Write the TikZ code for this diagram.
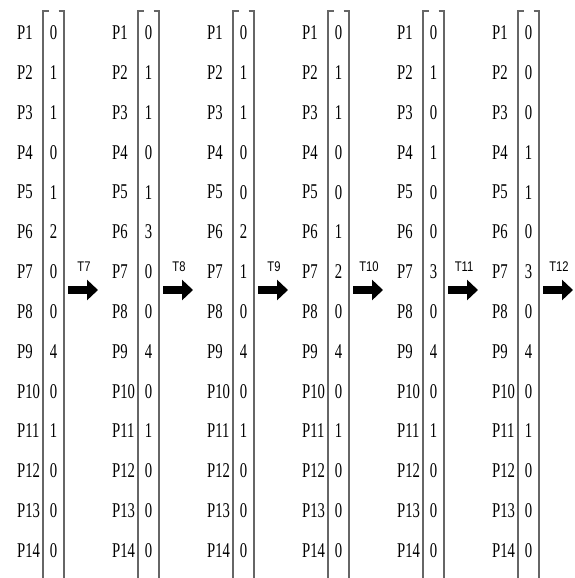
\documentclass[tikz,border=0pt]{standalone}
\usepackage{fontspec}
\newfontfamily\placefont[FakeStretch=0.7]{Liberation Serif}
\newfontfamily\transfont[FakeStretch=0.8]{Liberation Sans}
\usetikzlibrary{arrows.meta}
\tikzset{
    placeLabel/.style={
        anchor=west,
        inner sep=0pt,
        font=\placefont\fontsize{21}{21}\selectfont
    },
    tokenCount/.style={
        inner sep=0pt,
        font=\placefont\fontsize{21}{21}\selectfont
    },
    vecBracket/.style={
        draw=black!60,
        line width=1.6pt
    },
    fireArrow/.style={
        line width=8pt,
        -{Triangle[length=11pt, width=20pt]}
    },
    transLabel/.style={
        inner sep=0pt,
        font=\transfont\fontsize{14}{14}\selectfont
    }
}

\begin{document}
\begin{tikzpicture}[x=1pt, y=-1pt]
    \useasboundingbox (0,0) rectangle (574,578);

    % One marking vector per column
    \foreach \col/\tr/\marks in {
        0/7/{0,1,1,0,1,2,0,0,4,0,1,0,0,0},
        1/8/{0,1,1,0,1,3,0,0,4,0,1,0,0,0},
        2/9/{0,1,1,0,0,2,1,0,4,0,1,0,0,0},
        3/10/{0,1,1,0,0,1,2,0,4,0,1,0,0,0},
        4/11/{0,1,0,1,0,0,3,0,4,0,1,0,0,0},
        5/12/{0,0,0,1,1,0,3,0,4,0,1,0,0,0}} {
        \pgfmathsetmacro{\x}{95*\col}

        % Places and token counts
        \foreach \v [count=\i] in \marks {
            \pgfmathsetmacro{\y}{33+39.8*(\i-1)}
            \node[placeLabel] (p\col-\i) at (\x+17,\y) {P\i};
            \node[tokenCount] (n\col-\i) at (\x+53.5,\y) {\v};
        }

        % Brackets
        \draw[vecBracket] (\x+48.5,11) -- (\x+43,11) -- (\x+43,578);
        \draw[vecBracket] (\x+58.5,11) -- (\x+64,11) -- (\x+64,578);

        % Firing arrow
        \coordinate (a\col) at (\x+68,290);
        \coordinate (b\col) at (\x+98,290);
        \draw[fireArrow] (a\col) -- (b\col);
        \node[transLabel] (t\col) at (\x+84,267) {T\tr};
    }
\end{tikzpicture}
\end{document}
